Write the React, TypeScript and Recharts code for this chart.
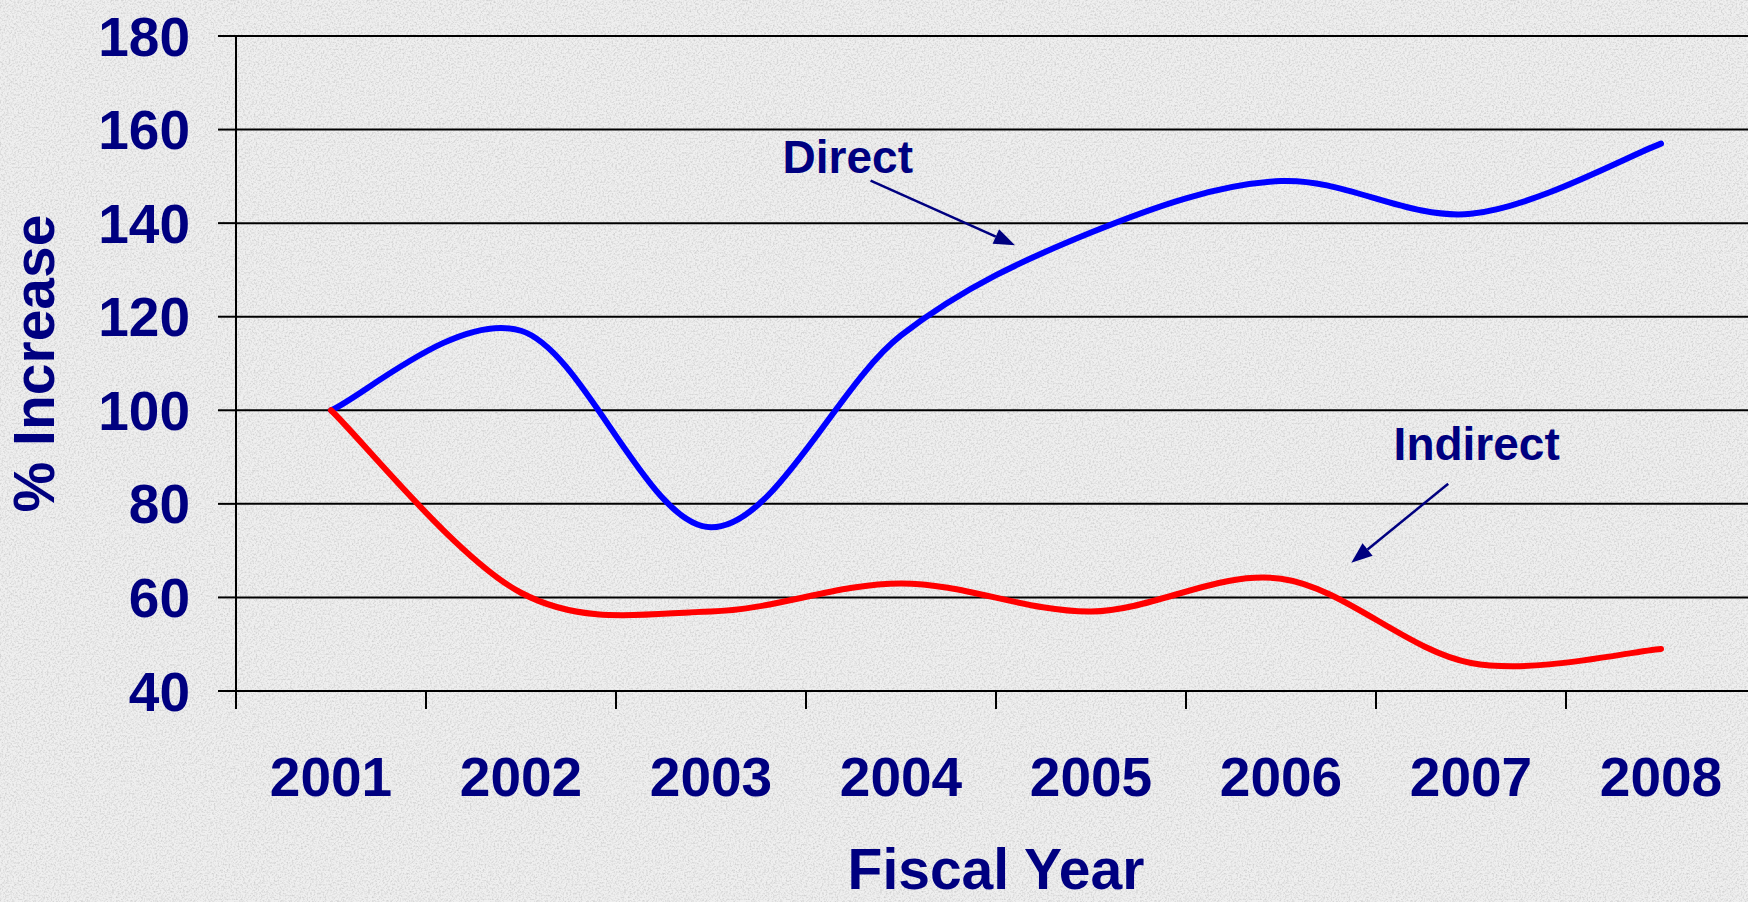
import React from 'react';
import { LineChart, Line, XAxis, YAxis, CartesianGrid, ReferenceLine, ReferenceDot } from 'recharts';

const NAVY = '#000080';
const FONT = '"Liberation Sans", Arial, sans-serif';

// fiscal years sit in slots 1..8 of a numeric axis so the ticks can fall on the band edges
const years = [2001, 2002, 2003, 2004, 2005, 2006, 2007, 2008];
const yearSlots = [1, 2, 3, 4, 5, 6, 7, 8];
const bandEdges = [0.5, 1.5, 2.5, 3.5, 4.5, 5.5, 6.5, 7.5, 8.5];
const directValues = [100, 117, 75, 116, 138, 149, 142, 157];
const indirectValues = [100, 61, 57, 63, 57, 64, 46, 49];
const yTicks = [40, 60, 80, 100, 120, 140, 160, 180];

// callouts, in data units
const directLabel = { text: 'Direct', x: 3.72, y: 150.7 };
const directArrow = [{ x: 3.84, y: 149.1 }, { x: 4.6, y: 135.3 }];
const indirectLabel = { text: 'Indirect', x: 7.03, y: 89.4 };
const indirectArrow = [{ x: 6.88, y: 84.3 }, { x: 6.37, y: 67.4 }];

const data = yearSlots.map((slot, i) => ({
  slot,
  year: years[i],
  direct: directValues[i],
  indirect: indirectValues[i],
}));

// speckled paper background
const paper =
  "url(\"data:image/svg+xml;utf8,<svg xmlns='http://www.w3.org/2000/svg' width='256' height='256'>" +
  "<filter id='n'><feTurbulence type='fractalNoise' baseFrequency='0.55' numOctaves='2' stitchTiles='stitch'/>" +
  "<feColorMatrix type='matrix' values='0 0 0 0 0.55 0 0 0 0 0.55 0 0 0 0 0.55 1.7 0 0 0 -0.72'/></filter>" +
  "<rect width='100%' height='100%' filter='url(%23n)'/></svg>\")";

// Excel style smoothed line: bezier through every point, tangents from the neighbours
const excelSmooth: any = (context: any) => {
  let pts: number[][] = [];
  return {
    areaStart() {},
    areaEnd() {},
    lineStart() {
      pts = [];
    },
    point(x: number, y: number) {
      pts.push([+x, +y]);
    },
    lineEnd() {
      const n = pts.length;
      if (!n) return;
      context.moveTo(pts[0][0], pts[0][1]);
      for (let i = 0; i < n - 1; i++) {
        const p0 = pts[Math.max(i - 1, 0)];
        const p1 = pts[i];
        const p2 = pts[i + 1];
        const p3 = pts[Math.min(i + 2, n - 1)];
        context.bezierCurveTo(
          p1[0] + (p2[0] - p0[0]) / 6,
          p1[1] + (p2[1] - p0[1]) / 6,
          p2[0] - (p3[0] - p1[0]) / 6,
          p2[1] - (p3[1] - p1[1]) / 6,
          p2[0],
          p2[1]
        );
      }
    },
  };
};

const Arrow = (props: any) => {
  const { x1, y1, x2, y2 } = props;
  const ang = Math.atan2(y2 - y1, x2 - x1);
  const len = 21;
  const half = 8;
  const bx = x2 - len * Math.cos(ang);
  const by = y2 - len * Math.sin(ang);
  const px = -Math.sin(ang) * half;
  const py = Math.cos(ang) * half;
  return (
    <g>
      <line x1={x1} y1={y1} x2={bx} y2={by} stroke={NAVY} strokeWidth={2.5} />
      <polygon points={`${x2},${y2} ${bx + px},${by + py} ${bx - px},${by - py}`} fill={NAVY} />
    </g>
  );
};

const noteText = (text: string) => (props: any) => (
  <text
    x={props.cx}
    y={props.cy}
    textAnchor="middle"
    fill={NAVY}
    fontSize={46}
    fontWeight="bold"
    fontFamily={FONT}
  >
    {text}
  </text>
);

const tickStyle = { fill: NAVY, fontSize: 55, fontWeight: 'bold', fontFamily: FONT };

export default function App() {
  return (
    <div
      style={{
        width: 1748,
        height: 902,
        overflow: 'hidden',
        backgroundColor: '#efefef',
        backgroundImage: paper,
      }}
    >
      <style>{'body{margin:0}'}</style>
      <LineChart width={1756} height={902} data={data} margin={{ top: 36, right: 0, bottom: 0, left: 0 }}>
        <CartesianGrid vertical={false} stroke="#000" strokeWidth={2} />
        <XAxis
          dataKey="slot"
          type="number"
          domain={[0.5, 8.5]}
          ticks={bandEdges}
          interval={0}
          height={18}
          tickSize={18}
          tick={() => <g />}
          axisLine={{ stroke: '#000', strokeWidth: 2 }}
          tickLine={{ stroke: '#000', strokeWidth: 2 }}
        />
        <XAxis
          xAxisId="labels"
          dataKey="slot"
          type="number"
          domain={[0.5, 8.5]}
          ticks={yearSlots}
          interval={0}
          height={193}
          tickSize={0}
          tickMargin={48}
          tickLine={false}
          axisLine={false}
          tickFormatter={(v) => String(years[yearSlots.indexOf(v)])}
          tick={tickStyle}
          label={{
            value: 'Fiscal Year',
            position: 'insideBottom',
            offset: 13,
            fill: NAVY,
            fontSize: 57,
            fontWeight: 'bold',
            fontFamily: FONT,
          }}
        />
        <YAxis
          domain={[40, 180]}
          ticks={yTicks}
          interval={0}
          width={236}
          tickSize={18}
          tickMargin={28}
          tick={tickStyle}
          axisLine={{ stroke: '#000', strokeWidth: 2 }}
          tickLine={{ stroke: '#000', strokeWidth: 2 }}
          label={{
            value: '% Increase',
            angle: -90,
            position: 'insideLeft',
            offset: 34,
            fill: NAVY,
            fontSize: 57,
            fontWeight: 'bold',
            fontFamily: FONT,
            style: { textAnchor: 'middle' },
          }}
        />
        <Line
          dataKey="direct"
          type={excelSmooth}
          stroke="#0000FF"
          strokeWidth={6}
          strokeLinecap="round"
          dot={false}
          activeDot={false}
          isAnimationActive={false}
        />
        <Line
          dataKey="indirect"
          type={excelSmooth}
          stroke="#FF0000"
          strokeWidth={6}
          strokeLinecap="round"
          dot={false}
          activeDot={false}
          isAnimationActive={false}
        />
        <ReferenceLine segment={directArrow} shape={Arrow} />
        <ReferenceLine segment={indirectArrow} shape={Arrow} />
        <ReferenceDot x={directLabel.x} y={directLabel.y} r={0} shape={noteText(directLabel.text)} />
        <ReferenceDot x={indirectLabel.x} y={indirectLabel.y} r={0} shape={noteText(indirectLabel.text)} />
      </LineChart>
    </div>
  );
}
